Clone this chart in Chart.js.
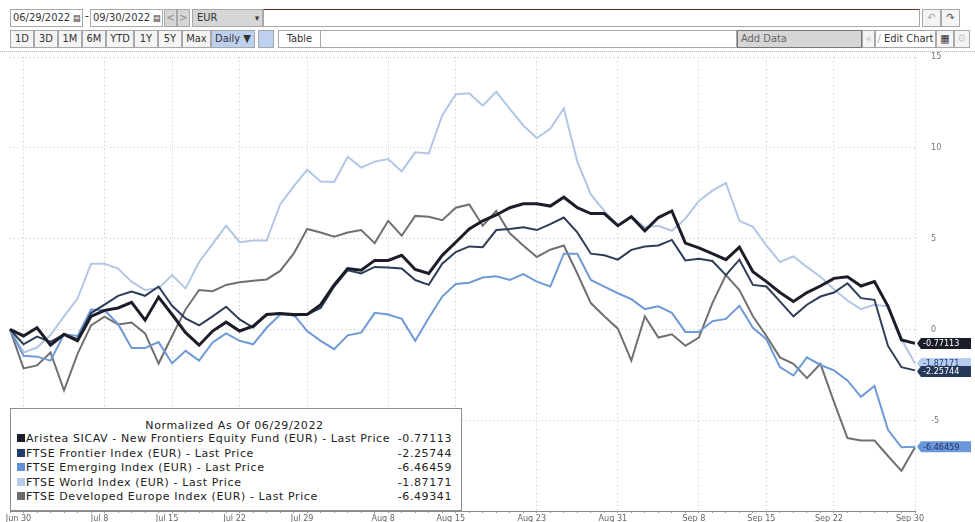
<!DOCTYPE html>
<html lang="en">
<head>
<meta charset="UTF-8" />
<title>Normalized performance</title>
<script src="https://cdn.jsdelivr.net/npm/chart.js"></script>
<style>
  body { margin: 0; width: 975px; height: 522px; overflow: hidden; background: #fff; position: relative; }
  .tb { position: absolute; font-family: 'DejaVu Sans Condensed', 'Liberation Sans Narrow', sans-serif; font-size: 11px; color: #333; box-sizing: border-box; height: 18px; line-height: 16px; border: 1px solid #a8a8a8; background: #fff; white-space: nowrap; overflow: hidden; }
  .btn { text-align: center; background: #f4f4f4; }
  .grey { background: #d6d6d6; }
  .blue { background: #bcd0f0; }
  .sep { position: absolute; left: 0; top: 51px; width: 975px; border-top: 1px dotted #b8b8b8; }
  #chartWrap { position: absolute; left: 0; top: 44px; width: 975px; height: 478px; }
  #legendBox { position: absolute; left: 10px; top: 408px; width: 452px; height: 103px; box-sizing: border-box; border: 1px solid #8f8f8f; background: #fff; font-family: 'DejaVu Sans', Verdana, sans-serif; font-size: 11px; letter-spacing: 0.6px; color: #222; padding: 11px 9px 0 6px; white-space: nowrap; }
  #legendBox .title { text-align: center; height: 12px; line-height: 12px; }
  #legendBox .row { display: flex; justify-content: space-between; height: 14.5px; line-height: 14.5px; }
  #legendBox .sw { display: inline-block; width: 8px; height: 8px; margin-right: 1px; vertical-align: 0; }
</style>
</head>
<body>

<!-- toolbar row 1 -->
<div class="tb" style="left:10px;top:9px;width:73px;padding-left:2px">06/29/2022 <span style="font-size:9px">&#9636;</span></div>
<div style="position:absolute;left:85px;top:9px;font:12px 'DejaVu Sans Condensed',sans-serif;color:#333">-</div>
<div class="tb" style="left:90px;top:9px;width:73px;padding-left:2px">09/30/2022 <span style="font-size:9px">&#9636;</span></div>
<div class="tb btn grey" style="left:164px;top:9px;width:13px;color:#888">&lt;</div>
<div class="tb btn grey" style="left:177px;top:9px;width:13px;color:#888">&gt;</div>
<div class="tb grey" style="left:192px;top:9px;width:71px;padding-left:4px">EUR<span style="position:absolute;left:62px;top:0;font-size:9px">&#9662;</span></div>
<div class="tb" style="left:263px;top:9px;width:657px;border-top:1px solid #6a2a2a"></div>
<div class="tb btn" style="left:922px;top:9px;width:19px;color:#aaa">&#8630;</div>
<div class="tb btn" style="left:941px;top:9px;width:19px;color:#555">&#8631;</div>

<!-- toolbar row 2 -->
<div class="tb btn" style="left:10px;top:30px;width:24px">1D</div>
<div class="tb btn" style="left:34px;top:30px;width:24px">3D</div>
<div class="tb btn" style="left:58px;top:30px;width:24px">1M</div>
<div class="tb btn" style="left:82px;top:30px;width:24px">6M</div>
<div class="tb btn" style="left:106px;top:30px;width:28px">YTD</div>
<div class="tb btn" style="left:134px;top:30px;width:24px">1Y</div>
<div class="tb btn" style="left:158px;top:30px;width:24px">5Y</div>
<div class="tb btn" style="left:182px;top:30px;width:29px">Max</div>
<div class="tb btn blue" style="left:211px;top:30px;width:44px">Daily &#9660;</div>
<div class="tb blue" style="left:258px;top:30px;width:16px"></div>
<div class="tb btn" style="left:278px;top:30px;width:43px;background:#fff">Table</div>
<div class="tb" style="left:321px;top:30px;width:416px;border-left:none"></div>
<div class="tb grey" style="left:737px;top:30px;width:125px;padding-left:3px;color:#666;border-color:#777">Add Data</div>
<div class="tb btn" style="left:862px;top:30px;width:13px;color:#bbb">&laquo;</div>
<div class="tb btn" style="left:875px;top:30px;width:61px;background:#fff"><span style="color:#aaa">/</span> Edit Chart</div>
<div class="tb btn" style="left:936px;top:30px;width:18px;font-weight:bold">&#9638;</div>
<div class="tb btn" style="left:954px;top:30px;width:16px;color:#ccc">&#9881;</div>
<div class="sep"></div>

<div id="chartWrap"><canvas id="perfChart"></canvas></div>

<div id="legendBox"></div>

<script>
  // trading days 06/29/2022 - 09/30/2022
  const days = [
    'Jun 29','Jun 30','Jul 1','Jul 4','Jul 5','Jul 6','Jul 7','Jul 8','Jul 11','Jul 12',
    'Jul 13','Jul 14','Jul 15','Jul 18','Jul 19','Jul 20','Jul 21','Jul 22','Jul 25','Jul 26',
    'Jul 27','Jul 28','Jul 29','Aug 1','Aug 2','Aug 3','Aug 4','Aug 5','Aug 8','Aug 9',
    'Aug 10','Aug 11','Aug 12','Aug 15','Aug 16','Aug 17','Aug 18','Aug 19','Aug 22','Aug 23',
    'Aug 24','Aug 25','Aug 26','Aug 29','Aug 30','Aug 31','Sep 1','Sep 2','Sep 5','Sep 6',
    'Sep 7','Sep 8','Sep 9','Sep 12','Sep 13','Sep 14','Sep 15','Sep 16','Sep 19','Sep 20',
    'Sep 21','Sep 22','Sep 23','Sep 26','Sep 27','Sep 28','Sep 29','Sep 30'
  ];
  const shownTicks = ['Jun 30','Jul 8','Jul 15','Jul 22','Jul 29','Aug 8','Aug 15','Aug 23','Aug 31','Sep 8','Sep 15','Sep 22','Sep 30'];
  const yTicks = [15, 10, 5, 0, -5];

  const aristea = [
    0, -0.36, 0.09, -0.87, -0.27, -0.63, 0.72, 1.05, 1.18, 1.49,
    0.51, 1.78, 0.82, -0.18, -0.87, -0.09, 0.40, -0.09, 0.18, 0.82,
    0.87, 0.82, 0.82, 1.36, 2.45, 3.35, 3.26, 3.80, 3.80, 4.08,
    3.30, 3.08, 4.08, 4.80, 5.53, 5.98, 6.30, 6.70, 6.92, 6.92,
    6.79, 7.28, 6.70, 6.38, 6.38, 5.71, 6.20, 5.43, 6.16, 6.52,
    4.75, 4.49, 4.17, 3.84, 4.53, 3.17, 2.63, 2.03, 1.54, 2.03,
    2.39, 2.81, 2.90, 2.39, 2.63, 1.27, -0.58, -0.77113
  ];
  const frontier = [
    0, -0.82, -0.40, -0.69, -0.27, -0.54, 0.90, 1.36, 1.85, 2.08,
    1.85, 2.36, 1.30, 0.60, 0.22, 0.72, 1.25, 0.55, 0.10, 0.82,
    0.87, 0.76, 0.82, 1.18, 2.36, 3.26, 3.08, 3.44, 3.41, 3.35,
    2.72, 2.45, 3.62, 4.26, 4.57, 4.53, 5.47, 5.53, 5.62, 5.47,
    5.80, 6.16, 5.34, 4.17, 4.08, 3.84, 4.38, 4.57, 4.62, 4.93,
    3.80, 3.89, 3.77, 2.99, 3.84, 2.45, 2.36, 1.54, 0.72, 1.36,
    1.81, 2.03, 2.54, 1.72, 1.63, -0.91, -2.08, -2.25744
  ];
  const emerging = [
    0, -1.45, -1.50, -1.72, -0.27, -0.36, 1.09, 1.05, 0.30, -1.02,
    -1.02, -0.70, -1.86, -1.18, -1.72, -0.72, -0.22, -0.63, -0.82, 0.09,
    0.82, 0.82, -0.09, -0.63, -1.09, -0.33, -0.18, 0.91, 0.82, 0.58,
    -0.63, 0.63, 1.81, 2.50, 2.57, 2.86, 2.93, 2.72, 3.04, 2.63,
    2.36, 4.17, 4.17, 2.72, 2.36, 1.99, 1.67, 1.12, 1.27, 0.91,
    -0.14, -0.14, 0.45, 0.58, 1.30, 0.09, -0.54, -2.08, -2.54, -1.54,
    -1.96, -2.26, -2.81, -3.71, -3.12, -5.53, -6.49, -6.46459
  ];
  const world = [
    0, -1.27, -1.00, -0.30, 0.72, 1.70, 3.62, 3.62, 3.35, 2.63,
    2.17, 2.26, 2.99, 2.26, 3.71, 4.71, 5.71, 4.80, 4.89, 4.89,
    6.88, 7.88, 8.79, 8.15, 8.12, 9.51, 8.91, 9.24, 9.38, 8.70,
    9.75, 9.69, 11.78, 12.95, 13.00, 12.32, 13.08, 12.14, 11.23, 10.54,
    11.05, 12.17, 9.24, 7.43, 6.52, 5.71, 6.25, 5.62, 5.71, 5.43,
    6.10, 7.07, 7.64, 8.06, 5.98, 5.65, 4.62, 3.71, 4.02, 3.44,
    2.90, 2.21, 1.59, 1.12, 1.36, 1.27, -0.54, -1.87171
  ];
  const devEurope = [
    0, -2.15, -1.98, -1.27, -3.35, -1.35, 0.22, 0.70, 0.27, 0.38,
    -0.22, -1.88, -0.36, 1.10, 2.17, 2.10, 2.45, 2.60, 2.68, 2.75,
    3.22, 4.17, 5.53, 5.34, 5.11, 5.34, 5.47, 4.75, 5.98, 5.16,
    6.25, 6.20, 6.01, 6.70, 6.88, 5.71, 6.52, 5.29, 4.62, 3.99,
    4.39, 4.62, 3.08, 1.45, 0.72, 0.04, -1.72, 0.72, -0.45, -0.27,
    -0.90, -0.45, 1.45, 2.99, 2.17, 0.72, -0.36, -1.54, -1.90, -2.68,
    -1.90, -3.99, -5.98, -6.12, -6.12, -6.97, -7.79, -6.49341
  ];

  const seriesNames = [
    'Aristea SICAV - New Frontiers Equity Fund (EUR) - Last Price',
    'FTSE Frontier Index (EUR) - Last Price',
    'FTSE Emerging Index (EUR) - Last Price',
    'FTSE World Index (EUR) - Last Price',
    'FTSE Developed Europe Index (EUR) - Last Price'
  ];
  const lastLabels = ['-0.77113', '-2.25744', '-6.46459', '-1.87171', '-6.49341'];
  const lineColors = ['#1b1e29', '#2e3d57', '#6f9ad6', '#b3c6e6', '#707070'];
  const swatchColors = ['#1c1f2b', '#1f3c6c', '#5f90d8', '#b8ccec', '#6c6c6c'];
  const tagBg = ['#1b1e29', '#27395a', '#6b97da', '#b8ccf0', null];
  const tagText = ['#ffffff', '#ffffff', '#1d2f5c', '#24407a', null];

  // legend
  const legendBox = document.getElementById('legendBox');
  let html = '<div class="title">Normalized As Of 06/29/2022</div>';
  seriesNames.forEach((n, i) => {
    html += '<div class="row"><span><span class="sw" style="background:' + swatchColors[i] + '"></span>' + n +
      '</span><span>' + lastLabels[i] + '</span></div>';
  });
  legendBox.innerHTML = html;

  // value tags on the right axis
  const lastTags = {
    id: 'lastTags',
    afterDraw(chart) {
      const { ctx, chartArea, scales } = chart;
      const tags = [];
      chart.data.datasets.forEach((ds, i) => {
        if (!tagBg[i]) return;
        tags.push({ i, y: scales.y.getPixelForValue(ds.data[ds.data.length - 1]) });
      });
      tags.sort((a, b) => a.y - b.y);
      for (let k = 1; k < tags.length; k++) {
        if (tags[k].y < tags[k - 1].y + 8) tags[k].y = tags[k - 1].y + 8;
      }
      ctx.save();
      ctx.font = '9px "DejaVu Sans Condensed", sans-serif';
      ctx.textBaseline = 'middle';
      tags.forEach(t => {
        const x0 = chartArea.right + 2, x1 = x0 + 54, h = 11;
        ctx.fillStyle = tagBg[t.i];
        ctx.beginPath();
        ctx.moveTo(x0, t.y);
        ctx.lineTo(x0 + 4, t.y - h / 2);
        ctx.lineTo(x1, t.y - h / 2);
        ctx.lineTo(x1, t.y + h / 2);
        ctx.lineTo(x0 + 4, t.y + h / 2);
        ctx.closePath();
        ctx.fill();
        ctx.fillStyle = tagText[t.i];
        ctx.fillText(lastLabels[t.i], x0 + 6, t.y + 0.5);
      });
      ctx.restore();
    }
  };

  const allSeries = [aristea, frontier, emerging, world, devEurope];
  const datasets = allSeries.map((data, i) => ({
    label: seriesNames[i],
    data,
    borderColor: lineColors[i],
    borderWidth: i === 0 ? 3 : 2,
    pointRadius: 0,
    tension: 0,
    fill: false
  }));

  new Chart(document.getElementById('perfChart'), {
    type: 'line',
    data: { labels: days, datasets },
    plugins: [lastTags],
    options: {
      responsive: true,
      maintainAspectRatio: false,
      animation: false,
      layout: { padding: { left: 10, top: 13, right: 0, bottom: 0 } },
      plugins: { legend: { display: false }, tooltip: { enabled: false } },
      scales: {
        x: {
          ticks: {
            autoSkip: false, maxRotation: 0, padding: 0, labelOffset: -5, color: '#666',
            font: { size: 9, family: '"DejaVu Sans Condensed", sans-serif' },
            callback: (v, i) => shownTicks.includes(days[i]) ? days[i] : ''
          },
          grid: {
            color: c => (c.tick && shownTicks.includes(days[c.index])) ? '#c2c2c2' : 'rgba(0,0,0,0)',
            tickColor: '#9a9a9a', tickLength: 2
          },
          border: { display: true, color: '#8a8a8a', dash: [1, 3] },
          afterFit: s => { s.height = 11; }
        },
        y: {
          position: 'right', min: -10, max: 15,
          afterBuildTicks: s => { s.ticks = yTicks.concat([-10]).map(v => ({ value: v })); },
          ticks: {
            padding: 2, color: '#777',
            font: { size: 9, family: '"DejaVu Sans Condensed", sans-serif' },
            callback: v => v === -10 ? '' : v
          },
          grid: {
            color: c => (c.tick && c.tick.value === -10) ? 'rgba(0,0,0,0)' : '#c2c2c2',
            tickColor: 'rgba(0,0,0,0)', tickLength: 14
          },
          border: { display: false, dash: [1, 3] },
          afterFit: s => { s.width = 60; }
        }
      }
    }
  });
</script>
</body>
</html>
